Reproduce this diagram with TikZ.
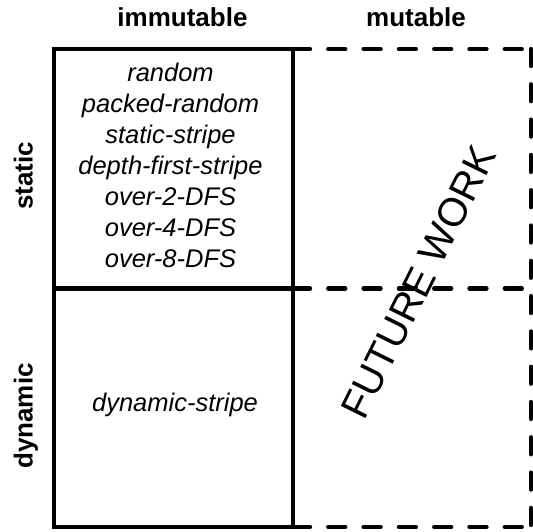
\documentclass[tikz,border=0pt]{standalone}
\usepackage{fontspec}
\setmainfont{Liberation Sans}
\begin{document}
\begin{tikzpicture}[x=1pt,y=1pt,
  solidline/.style={line width=4.3pt, line join=miter},
  dashline/.style={line width=4.3pt, line cap=round, dash pattern=on 17pt off 18.3pt},
  header/.style={inner sep=0pt, anchor=base, font=\bfseries\fontsize{26}{30}\selectfont},
  item/.style={inner sep=0pt, anchor=base, font=\itshape\fontsize{25.5}{31}\selectfont},
  future/.style={inner sep=0pt, anchor=center, rotate=63.6, font=\fontsize{40}{46}\selectfont}]
\useasboundingbox (0,0) rectangle (533,531);
% grid corners
\coordinate (TL) at (54,482);
\coordinate (TM) at (293,482);
\coordinate (TR) at (531,482);
\coordinate (ML) at (54,242.5);
\coordinate (MM) at (293,242.5);
\coordinate (MR) at (531,242.5);
\coordinate (BL) at (54,4);
\coordinate (BM) at (293,4);
\coordinate (BR) at (531,4);
% dashed (mutable) part
\draw[dashline] (TM) -- (TR);
\draw[dashline] (TR) -- (BR);
\draw[dashline] (MM) -- (MR);
\draw[dashline] (BM) -- (BR);
% solid (immutable) part
\draw[solidline] (TL) -- (TM) -- (BM) -- (BL) -- cycle;
\draw[solidline] (ML) -- (MM);
% headers
\node[header] (himm) at (182.5,504) {immutable};
\node[header] (hmut) at (416,504) {mutable};
\node[header, rotate=90] (hstat) at (32.5,355) {static};
\node[header, rotate=90] (hdyn) at (32.5,115) {dynamic};
% static immutable entries
\node[item] (s1) at (170.5,449) {random};
\node[item] (s2) at (170.5,418) {packed-random};
\node[item] (s3) at (170.5,387) {static-stripe};
\node[item] (s4) at (170.5,356) {depth-first-stripe};
\node[item] (s5) at (170.5,325) {over-2-DFS};
\node[item] (s6) at (170.5,294) {over-4-DFS};
\node[item] (s7) at (170.5,263) {over-8-DFS};
% dynamic immutable entry
\node[item] (d1) at (175,119.3) {dynamic-stripe};
% future work
\node[future] (fw) at (418.7,249) {FUTURE WORK};
\end{tikzpicture}
\end{document}
